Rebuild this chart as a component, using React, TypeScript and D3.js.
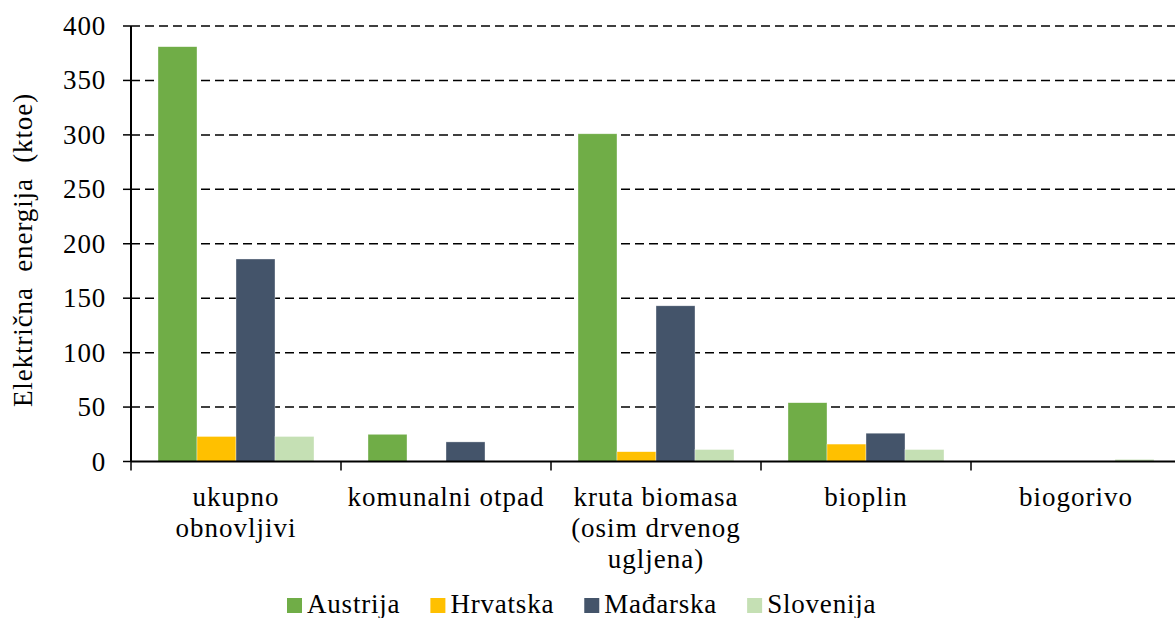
import React, { useEffect, useRef } from "react";
import * as d3 from "d3";

const categories = ["ukupno obnovljivi", "komunalni otpad", "kruta biomasa (osim drvenog ugljena)", "bioplin", "biogorivo"];
const categoryLines = [["ukupno", "obnovljivi"], ["komunalni otpad"], ["kruta biomasa", "(osim drvenog", "ugljena)"], ["bioplin"], ["biogorivo"]];
const seriesNames = ["Austrija", "Hrvatska", "Mađarska", "Slovenija"];
const austrija = [381, 25, 301, 54, 0];
const hrvatska = [23, 0, 9, 16, 0];
const madjarska = [186, 18, 143, 26, 0];
const slovenija = [23, 0, 11, 11, 2];
const yTicks = [0, 50, 100, 150, 200, 250, 300, 350, 400];
const colors = ["#70AD47", "#FFC000", "#44546A", "#C5E0B4"];

const W = 1175;
const H = 618;
const FONT = "'Liberation Serif', 'Times New Roman', serif";

export default function App() {
  const ref = useRef<SVGSVGElement>(null);
  useEffect(() => {
    const svg = d3.select(ref.current);
    svg.selectAll("*").remove();
    const series = [austrija, hrvatska, madjarska, slovenija];
    const left = 131, right = 1181, top = 26, bottom = 461.5;
    const x = d3.scaleBand<string>().domain(categories).range([left, right]).paddingInner(0).paddingOuter(0);
    const y = d3.scaleLinear().domain([0, 400]).range([bottom, top]);
    const inner = d3.scaleBand<string>().domain(seriesNames).range([27, x.bandwidth() - 27]);

    // gridlines
    svg.append("g").selectAll("line").data(yTicks.filter(t => t > 0)).join("line")
      .attr("x1", left).attr("x2", W).attr("y1", d => y(d)).attr("y2", d => y(d))
      .attr("stroke", "#000").attr("stroke-width", 1.5).attr("stroke-dasharray", "9,5");

    // bars
    const g = svg.append("g");
    series.forEach((vals, si) => {
      g.append("g").selectAll("rect").data(vals).join("rect")
        .attr("x", (_, i) => (x(categories[i]) as number) + (inner(seriesNames[si]) as number))
        .attr("width", inner.bandwidth())
        .attr("y", d => y(d))
        .attr("height", d => y(0) - y(d))
        .attr("fill", colors[si])
        .attr("stroke", "#fff").attr("stroke-width", 0.6).attr("stroke-opacity", d => (d > 0 ? 0.6 : 0));
    });

    // y axis
    svg.append("line").attr("x1", left).attr("x2", left).attr("y1", top).attr("y2", bottom)
      .attr("stroke", "#000").attr("stroke-width", 2);
    svg.append("g").selectAll("line").data(yTicks).join("line")
      .attr("x1", left - 8).attr("x2", left).attr("y1", d => y(d)).attr("y2", d => y(d))
      .attr("stroke", "#000").attr("stroke-width", 1.5);
    svg.append("g").selectAll("text").data(yTicks).join("text")
      .attr("x", 106).attr("y", d => y(d) + 9)
      .attr("text-anchor", "end")
      .style("font-family", FONT).style("font-size", "27px").style("letter-spacing", "0.8px")
      .attr("fill", "#000").text(d => String(d));

    // x axis
    svg.append("line").attr("x1", left).attr("x2", W).attr("y1", bottom).attr("y2", bottom)
      .attr("stroke", "#000").attr("stroke-width", 2);
    const bounds = categories.map(c => x(c) as number);
    svg.append("g").selectAll("line").data(bounds).join("line")
      .attr("x1", d => d).attr("x2", d => d).attr("y1", bottom).attr("y2", bottom + 9)
      .attr("stroke", "#000").attr("stroke-width", 1.5);
    categoryLines.forEach((lines, i) => {
      const cx = (x(categories[i]) as number) + x.bandwidth() / 2;
      lines.forEach((ln, li) => {
        svg.append("text").attr("x", cx).attr("y", 506 + li * 31)
          .attr("text-anchor", "middle")
          .style("font-family", FONT).style("font-size", "27px").style("letter-spacing", "1px")
          .attr("fill", "#000").text(ln);
      });
    });

    // y label
    svg.append("text").attr("transform", `translate(32, 250) rotate(-90)`)
      .attr("text-anchor", "middle")
      .style("font-family", FONT).style("font-size", "27px").style("letter-spacing", "0.9px")
      .style("white-space", "pre")
      .attr("fill", "#000").text("Električna  energija  (ktoe)");

    // legend
    const lg = svg.append("g");
    let lx = 287;
    seriesNames.forEach((name, i) => {
      lg.append("rect").attr("x", lx).attr("y", 598).attr("width", 15).attr("height", 15).attr("fill", colors[i]);
      const t = lg.append("text").attr("x", lx + 20).attr("y", 613)
        .style("font-family", FONT).style("font-size", "27px").style("letter-spacing", "0.8px")
        .attr("fill", "#000").text(name);
      const len = (t.node() as SVGTextElement).getComputedTextLength();
      lx = lx + 20 + len + 30;
    });
  }, []);
  return (
    <svg ref={ref} width={W} height={H} style={{ position: "absolute", left: 0, top: 0, background: "#fff" }} />
  );
}
